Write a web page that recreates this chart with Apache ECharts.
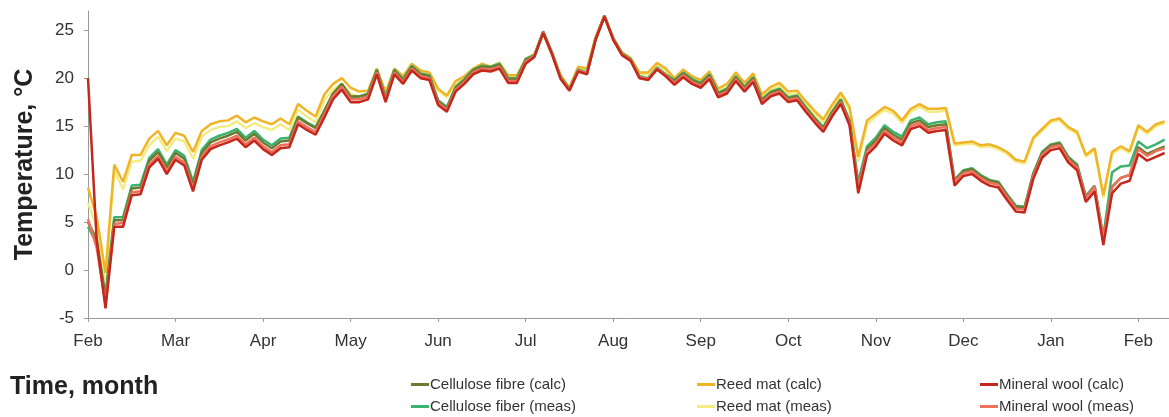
<!DOCTYPE html>
<html>
<head>
<meta charset="utf-8">
<script src="https://cdn.jsdelivr.net/npm/echarts@6/dist/echarts.min.js"></script>
<style>
html,body{margin:0;padding:0;background:#fff;}
#chart{width:1169px;height:417px;}
</style>
</head>
<body>
<div id="chart"></div>
<script>
// Month tick labels (equally spaced month ticks)
const monthLabels = ['Feb','Mar','Apr','May','Jun','Jul','Aug','Sep','Oct','Nov','Dec','Jan','Feb'];
// Sampling step in months (readings taken every 0.1 month)
const sampleStep = 0.1;

// Series values (°C)
const mineralWoolCalc = [20.0, 3.0, -4.0, 4.5, 4.5, 7.8, 7.9, 10.7, 11.6, 10.0,
11.5, 10.9, 8.2, 11.5, 12.6, 13.0, 13.3, 13.7, 12.8, 13.5,
12.6, 12.0, 12.7, 12.8, 15.2, 14.6, 14.1, 15.9, 17.8, 18.8,
17.5, 17.5, 17.8, 20.4, 17.5, 20.4, 19.4, 20.8, 20.0, 19.8,
17.2, 16.5, 18.6, 19.4, 20.4, 20.8, 20.7, 21.0, 19.5, 19.5,
21.5, 22.2, 24.7, 22.5, 19.9, 18.7, 20.7, 20.4, 24.0, 26.4,
24.0, 22.4, 21.8, 20.0, 19.8, 20.9, 20.2, 19.3, 20.1, 19.4,
19.0, 19.9, 18.0, 18.4, 19.7, 18.6, 19.6, 17.3, 18.1, 18.4,
17.5, 17.7, 16.5, 15.4, 14.4, 16.0, 17.3, 15.1, 8.0, 12.0,
12.9, 14.2, 13.5, 13.0, 14.7, 15.0, 14.3, 14.5, 14.6, 8.8,
9.8, 10.0, 9.3, 8.8, 8.6, 7.3, 6.1, 6.0, 9.5, 11.7,
12.5, 12.7, 11.2, 10.4, 7.1, 8.2, 2.6, 8.0, 9.0, 9.3,
12.1, 11.4, 11.8, 12.2];

const mineralWoolMeas = [5.3, 2.3, -3.5, 4.8, 4.9, 8.1, 8.2, 11.0, 11.9, 10.3,
11.8, 11.2, 8.5, 11.8, 12.9, 13.3, 13.6, 14.0, 13.1, 13.8,
12.9, 12.3, 13.0, 13.1, 15.5, 14.9, 14.4, 16.2, 18.1, 19.1,
17.8, 17.8, 18.1, 20.6, 17.7, 20.6, 19.6, 21.0, 20.2, 20.0,
17.4, 16.7, 18.8, 19.6, 20.6, 21.0, 20.9, 21.2, 19.7, 19.7,
21.7, 22.3, 24.8, 22.6, 20.0, 18.8, 20.8, 20.5, 24.1, 26.5,
24.1, 22.5, 21.9, 20.1, 19.9, 21.0, 20.3, 19.5, 20.3, 19.6,
19.2, 20.1, 18.2, 18.6, 19.9, 18.8, 19.8, 17.5, 18.3, 18.6,
17.7, 17.9, 16.7, 15.6, 14.6, 16.2, 17.5, 15.3, 8.6, 12.4,
13.2, 14.5, 13.8, 13.3, 15.0, 15.3, 14.6, 14.8, 14.9, 9.2,
10.1, 10.3, 9.6, 9.1, 8.9, 7.6, 6.4, 6.3, 9.8, 12.0,
12.8, 13.0, 11.5, 10.7, 7.5, 8.7, 3.2, 8.6, 9.6, 9.9,
12.6, 11.9, 12.4, 12.7];

const celluloseCalc = [5.0, 3.2, -3.0, 5.2, 5.2, 8.5, 8.6, 11.4, 12.3, 10.7,
12.2, 11.6, 8.9, 12.2, 13.3, 13.7, 14.0, 14.4, 13.5, 14.2,
13.3, 12.7, 13.4, 13.5, 15.9, 15.3, 14.8, 16.6, 18.4, 19.4,
18.1, 18.1, 18.3, 20.8, 17.9, 20.8, 19.8, 21.2, 20.4, 20.2,
17.6, 16.9, 19.0, 19.8, 20.8, 21.2, 21.1, 21.4, 19.9, 19.9,
21.9, 22.3, 24.8, 22.6, 20.0, 18.8, 20.8, 20.5, 24.1, 26.5,
24.1, 22.5, 21.9, 20.1, 19.9, 21.0, 20.3, 19.7, 20.5, 19.8,
19.4, 20.3, 18.4, 18.8, 20.1, 19.0, 20.0, 17.7, 18.5, 18.8,
17.9, 18.1, 16.9, 15.8, 14.8, 16.4, 17.7, 15.5, 8.6, 12.6,
13.5, 14.8, 14.1, 13.6, 15.3, 15.6, 14.9, 15.1, 15.2, 9.3,
10.3, 10.5, 9.8, 9.3, 9.1, 7.8, 6.6, 6.5, 10.0, 12.2,
13.0, 13.2, 11.7, 10.9, 7.6, 8.7, 3.0, 8.7, 9.6, 9.9,
12.8, 12.1, 12.5, 12.9];

const celluloseMeas = [4.5, 2.8, -2.5, 5.5, 5.5, 8.8, 8.9, 11.7, 12.6, 11.0,
12.5, 11.9, 9.2, 12.5, 13.6, 14.0, 14.3, 14.7, 13.8, 14.5,
13.6, 13.0, 13.7, 13.8, 16.0, 15.4, 14.9, 16.6, 18.4, 19.4,
18.1, 18.1, 18.4, 20.9, 18.0, 20.9, 19.9, 21.3, 20.5, 20.3,
17.7, 17.0, 19.1, 19.9, 20.9, 21.3, 21.2, 21.5, 20.0, 20.0,
22.0, 22.4, 24.9, 22.7, 20.1, 18.9, 20.9, 20.6, 24.2, 26.5,
24.2, 22.6, 22.0, 20.2, 20.0, 21.1, 20.4, 19.8, 20.6, 19.9,
19.5, 20.4, 18.5, 18.9, 20.2, 19.1, 20.1, 17.8, 18.6, 18.9,
18.0, 18.2, 17.0, 15.9, 14.9, 16.5, 17.8, 15.6, 9.2, 12.9,
13.8, 15.1, 14.4, 13.9, 15.6, 15.9, 15.2, 15.4, 15.5, 9.4,
10.4, 10.6, 9.9, 9.4, 9.2, 7.9, 6.7, 6.6, 10.1, 12.3,
13.1, 13.3, 11.8, 11.0, 7.7, 8.8, 3.5, 10.2, 10.8, 10.9,
13.4, 12.7, 13.1, 13.6];

const reedMatCalc = [8.6, 5.5, -0.3, 11.0, 9.2, 12.0, 12.0, 13.7, 14.5, 13.0,
14.3, 14.0, 12.3, 14.5, 15.2, 15.5, 15.6, 16.1, 15.4, 15.9,
15.5, 15.2, 15.8, 15.2, 17.3, 16.6, 16.0, 18.3, 19.4, 20.0,
19.0, 18.6, 18.7, 21.0, 18.5, 21.0, 20.2, 21.5, 20.8, 20.6,
18.9, 18.2, 19.7, 20.2, 21.0, 21.5, 21.2, 21.6, 20.3, 20.3,
22.0, 22.5, 24.8, 22.7, 20.3, 19.0, 21.2, 21.0, 24.3, 26.5,
24.2, 22.7, 22.1, 20.6, 20.6, 21.6, 21.0, 20.0, 20.9, 20.2,
19.8, 20.7, 18.9, 19.4, 20.6, 19.5, 20.5, 18.3, 19.1, 19.5,
18.6, 18.7, 17.6, 16.6, 15.7, 17.2, 18.5, 17.0, 11.8, 15.6,
16.3, 17.0, 16.6, 15.6, 16.8, 17.3, 16.8, 16.8, 16.9, 13.2,
13.3, 13.4, 13.0, 13.1, 12.8, 12.3, 11.5, 11.3, 13.8, 14.7,
15.6, 15.8, 14.9, 14.4, 12.0, 12.7, 7.8, 12.3, 12.9, 12.4,
15.1, 14.4, 15.2, 15.5];

const reedMatMeas = [7.0, 4.5, -1.0, 10.4, 8.4, 11.3, 11.4, 13.0, 13.9, 12.4,
13.7, 13.4, 11.6, 13.9, 14.6, 14.9, 15.0, 15.5, 14.8, 15.3,
14.9, 14.6, 15.2, 14.6, 16.7, 16.0, 15.4, 17.7, 18.8, 19.4,
18.4, 18.0, 18.2, 20.8, 18.3, 20.8, 20.0, 21.3, 20.6, 20.4,
18.7, 18.0, 19.5, 20.0, 20.8, 21.3, 21.0, 21.4, 20.1, 20.1,
21.8, 22.3, 24.7, 22.5, 20.1, 18.8, 21.0, 20.8, 24.1, 26.4,
24.0, 22.5, 21.9, 20.4, 20.4, 21.4, 20.8, 19.7, 20.6, 19.9,
19.5, 20.4, 18.6, 19.1, 20.3, 19.2, 20.2, 18.0, 18.8, 19.2,
18.3, 18.4, 17.3, 16.3, 15.4, 16.9, 18.2, 16.7, 11.3, 15.2,
16.0, 16.7, 16.3, 15.3, 16.5, 17.0, 16.5, 16.5, 16.6, 13.0,
13.1, 13.2, 12.8, 12.9, 12.6, 12.1, 11.3, 11.1, 13.6, 14.5,
15.4, 15.6, 14.7, 14.2, 11.8, 12.5, 7.5, 12.1, 12.7, 12.2,
14.9, 14.2, 15.0, 15.3];

const yTicks = { min: -5, max: 27, interval: 5 };

function toPairs(arr) {
  return arr.map((v, i) => [+(i * sampleStep).toFixed(2), v]);
}

const seriesDefs = [
  { name: 'Reed mat (meas)', data: reedMatMeas, color: '#f3ec84' },
  { name: 'Reed mat (calc)', data: reedMatCalc, color: '#f0b428' },
  { name: 'Cellulose fiber (meas)', data: celluloseMeas, color: '#3cb371' },
  { name: 'Cellulose fibre (calc)', data: celluloseCalc, color: '#6b7b30' },
  { name: 'Mineral wool (meas)', data: mineralWoolMeas, color: '#f0705e' },
  { name: 'Mineral wool (calc)', data: mineralWoolCalc, color: '#c4281c' }
];

const chart = echarts.init(document.getElementById('chart'), null, { renderer: 'canvas' });

const legendCommon = {
  orient: 'vertical',
  icon: 'rect',
  itemWidth: 18,
  itemHeight: 3,
  itemGap: 7,
  textStyle: { fontFamily: 'Liberation Sans Narrow, Arial Narrow, Liberation Sans, sans-serif', fontSize: 15, color: '#333', padding: [0, 0, 0, -4] },
  padding: 0,
  selectedMode: false
};

chart.setOption({
  animation: false,
  backgroundColor: '#fff',
  grid: { left: 88, right: 0, top: 11, bottom: 99, containLabel: false },
  legend: [
    Object.assign({ left: 411, top: 377, data: ['Cellulose fibre (calc)', 'Cellulose fiber (meas)'] }, legendCommon),
    Object.assign({ left: 697, top: 377, data: ['Reed mat (calc)', 'Reed mat (meas)'] }, legendCommon),
    Object.assign({ left: 980, top: 377, data: ['Mineral wool (calc)', 'Mineral wool (meas)'] }, legendCommon)
  ],
  xAxis: {
    type: 'value',
    min: 0,
    max: 12.35,
    interval: 1,
    splitLine: { show: false },
    axisLine: { onZero: false, lineStyle: { color: '#9a9a9a', width: 1 } },
    axisTick: { show: true, length: 4, lineStyle: { color: '#9a9a9a' } },
    axisLabel: {
      fontFamily: 'Liberation Sans, Arial, sans-serif',
      fontSize: 17,
      color: '#333',
      margin: 15,
      showMaxLabel: false,
      formatter: function (v) {
        const k = Math.round(v);
        return Math.abs(v - k) < 1e-6 && monthLabels[k] ? monthLabels[k] : '';
      }
    }
  },
  yAxis: {
    type: 'value',
    min: yTicks.min,
    max: yTicks.max,
    interval: yTicks.interval,
    name: 'Temperature, °C',
    nameLocation: 'middle',
    nameGap: 50,
    nameTextStyle: { fontFamily: 'Liberation Sans, Arial, sans-serif', fontSize: 25, fontWeight: 'bold', color: '#222' },
    splitLine: { show: false },
    axisLine: { show: true, lineStyle: { color: '#9a9a9a', width: 1 } },
    axisTick: { show: true, length: 4, lineStyle: { color: '#9a9a9a' } },
    axisLabel: {
      fontFamily: 'Liberation Sans, Arial, sans-serif',
      fontSize: 17,
      color: '#333',
      margin: 14,
      showMaxLabel: false
    }
  },
  graphic: [
    {
      type: 'text',
      left: 10,
      top: 375,
      style: { text: 'Time, month', font: 'bold 25px "Liberation Sans", Arial, sans-serif', fill: '#222' }
    }
  ],
  series: seriesDefs.map(s => ({
    name: s.name,
    type: 'line',
    data: toPairs(s.data),
    showSymbol: false,
    symbol: 'none',
    lineStyle: { width: 2.5, color: s.color },
    itemStyle: { color: s.color },
    smooth: false
  }))
});
</script>
</body>
</html>
